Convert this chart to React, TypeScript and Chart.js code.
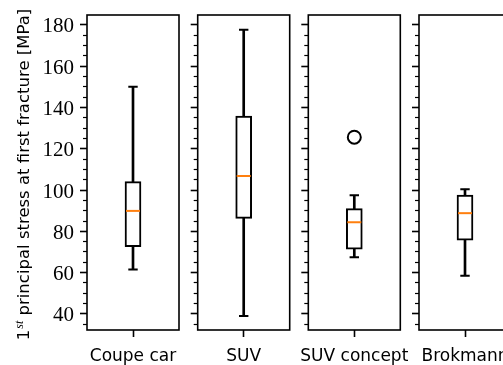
import React, { useEffect, useRef } from 'react';
import { Chart, registerables } from 'chart.js';

Chart.register(...registerables);

// ---- data ----
const categories = ['Coupe car', 'SUV', 'SUV concept', 'Brokmann'];
const whiskerLow = [61.5, 39.0, 67.4, 58.5];
const quartile1 = [72.6, 86.3, 71.3, 75.7];
const medians = [89.9, 106.8, 84.4, 88.8];
const quartile3 = [104.1, 135.8, 91.0, 97.6];
const whiskerHigh = [150.1, 177.6, 97.5, 100.4];
const outliers: number[][] = [[], [], [125.6], []];
const yTickLabels = [40, 60, 80, 100, 120, 140, 160, 180];
const yMinorStep = 5;
const yMin = 32.2;
const yMax = 184.8;
const yTitleMain = ' principal stress at first fracture [MPa]';
const yTitleLead = '1';
const yTitleSup = 'st';

// ---- layout / style ----
const W = 503;
const H = 365;
const PANEL_LEFTS = [87, 197.7, 308.3, 419];
const PANEL_W = 92;
const TOP = 15;
const XAXIS_H = 35;
const RIGHT_PAD = 24;
const ORANGE = '#ff7f0e';

const framePlugin = {
  id: 'frame',
  afterDraw(chart: any) {
    const { ctx, chartArea } = chart;
    ctx.save();
    ctx.strokeStyle = '#000';
    ctx.lineWidth = 1.6;
    ctx.strokeRect(chartArea.left, chartArea.top, chartArea.right - chartArea.left, chartArea.bottom - chartArea.top);
    ctx.restore();
  },
};

const yTitlePlugin = {
  id: 'ytitle',
  afterDraw(chart: any) {
    const { ctx, chartArea } = chart;
    const cy = (chartArea.top + chartArea.bottom) / 2 + 2;
    const mainFont = '16.5px "DejaVu Sans"';
    const supFont = 'italic 12px "Liberation Serif"';
    ctx.save();
    ctx.fillStyle = '#000';
    ctx.textBaseline = 'alphabetic';
    ctx.textAlign = 'left';
    ctx.font = mainFont;
    const w1 = ctx.measureText(yTitleLead).width;
    const w3 = ctx.measureText(yTitleMain).width;
    ctx.font = supFont;
    const w2 = ctx.measureText(yTitleSup).width + 1;
    const total = w1 + w2 + w3;
    ctx.translate(29, cy);
    ctx.rotate(-Math.PI / 2);
    let x = -total / 2;
    ctx.font = mainFont;
    ctx.fillText(yTitleLead, x, 0);
    x += w1;
    ctx.font = supFont;
    ctx.fillText(yTitleSup, x + 1, -6);
    x += w2;
    ctx.font = mainFont;
    ctx.fillText(yTitleMain, x, 0);
    ctx.restore();
  },
};

function panelGeometry(i: number) {
  const axisTarget = i === 0 ? PANEL_LEFTS[0] : 24;
  const canvasLeft = Math.floor(PANEL_LEFTS[i] - axisTarget);
  const axisW = PANEL_LEFTS[i] - canvasLeft;
  const canvasW = Math.ceil(axisW + PANEL_W + RIGHT_PAD);
  const rightPad = canvasW - axisW - PANEL_W;
  return { canvasLeft, axisW, canvasW, rightPad };
}

function makeConfig(i: number): any {
  const cat = categories[i];
  const { axisW, rightPad } = panelGeometry(i);
  const isFirst = i === 0;
  const isMajor = (v: number) => yTickLabels.includes(Math.round(v));
  return {
    type: 'bar',
    data: {
      labels: [cat],
      datasets: [
        {
          type: 'bar',
          data: [[whiskerLow[i], whiskerHigh[i]]],
          backgroundColor: '#000',
          borderWidth: 0,
          barThickness: 2,
          grouped: false,
          order: 5,
        },
        {
          type: 'bar',
          data: [[quartile1[i], quartile3[i]]],
          backgroundColor: '#fff',
          borderColor: '#000',
          borderWidth: 2,
          borderSkipped: false,
          barThickness: 16,
          grouped: false,
          order: 4,
        },
        {
          type: 'line',
          data: [
            { x: cat, y: whiskerLow[i] },
            { x: cat, y: whiskerHigh[i] },
          ],
          showLine: false,
          pointStyle: 'line',
          pointRadius: 4.7,
          pointHoverRadius: 4.7,
          pointBorderWidth: 2,
          pointBorderColor: '#000',
          order: 2,
        },
        {
          type: 'line',
          data: [{ x: cat, y: medians[i] }],
          showLine: false,
          pointStyle: 'line',
          pointRadius: 7,
          pointHoverRadius: 7,
          pointBorderWidth: 2,
          pointBorderColor: ORANGE,
          order: 1,
        },
        {
          type: 'line',
          data: outliers[i].map((v) => ({ x: cat, y: v })),
          showLine: false,
          pointStyle: 'circle',
          pointRadius: 6.5,
          pointHoverRadius: 6.5,
          pointBorderWidth: 2,
          pointBorderColor: '#000',
          pointBackgroundColor: '#fff',
          order: 0,
        },
      ],
    },
    options: {
      responsive: false,
      animation: false,
      events: [],
      layout: { autoPadding: false, padding: { top: TOP, right: rightPad, bottom: 0, left: 0 } },
      plugins: { legend: { display: false }, tooltip: { enabled: false }, title: { display: false } },
      scales: {
        x: {
          type: 'category',
          offset: true,
          border: { display: false },
          grid: {
            display: true,
            drawOnChartArea: false,
            offset: false,
            tickLength: 7,
            tickWidth: 1.6,
            tickColor: '#000',
          },
          ticks: {
            color: '#000',
            font: { family: 'DejaVu Sans', size: 17 },
            padding: 9,
            maxRotation: 0,
            autoSkip: false,
          },
          afterFit: (s: any) => {
            s.height = XAXIS_H;
            s.paddingLeft = 0;
            s.paddingRight = 0;
          },
        },
        y: {
          type: 'linear',
          min: yMin,
          max: yMax,
          border: { display: false },
          grid: {
            display: true,
            drawOnChartArea: false,
            tickLength: 7,
            tickColor: '#000',
            tickWidth: (ctx: any) => (ctx.tick && isMajor(ctx.tick.value) ? 1.6 : 1.2),
            tickBorderDash: (ctx: any) => (ctx.tick && isMajor(ctx.tick.value) ? [] : [4, 3]),
            tickBorderDashOffset: (ctx: any) => (ctx.tick && isMajor(ctx.tick.value) ? 0 : 4),
          },
          ticks: {
            stepSize: yMinorStep,
            autoSkip: false,
            includeBounds: false,
            color: '#000',
            font: { family: 'Liberation Serif', size: 21 },
            padding: 6,
            labelOffset: 2,
            callback: (v: any) => (isFirst && isMajor(Number(v)) ? String(Math.round(Number(v))) : ''),
          },
          afterFit: (s: any) => {
            s.width = axisW;
            s.paddingTop = 0;
            s.paddingBottom = 0;
          },
        },
      },
    },
    plugins: isFirst ? [framePlugin, yTitlePlugin] : [framePlugin],
  };
}

export default function App() {
  const refs = useRef<(HTMLCanvasElement | null)[]>([]);

  useEffect(() => {
    const charts: Chart[] = [];
    categories.forEach((_, i) => {
      const c = refs.current[i];
      if (c) charts.push(new Chart(c, makeConfig(i)));
    });
    return () => charts.forEach((ch) => ch.destroy());
  }, []);

  return (
    <div
      style={{
        position: 'fixed',
        left: 0,
        top: 0,
        width: W,
        height: H,
        overflow: 'hidden',
        background: '#fff',
      }}
    >
      {categories.map((cat, i) => {
        const g = panelGeometry(i);
        return (
          <canvas
            key={cat}
            ref={(el) => {
              refs.current[i] = el;
            }}
            width={g.canvasW}
            height={H}
            style={{ position: 'absolute', left: g.canvasLeft, top: 0, width: g.canvasW, height: H }}
          />
        );
      })}
    </div>
  );
}
